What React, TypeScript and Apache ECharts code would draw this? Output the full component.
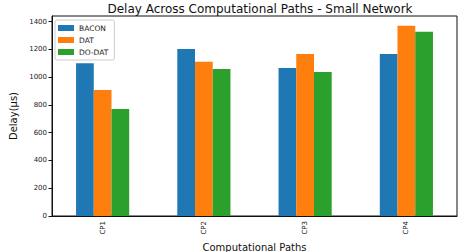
import React, { useEffect, useRef } from "react";
import * as echarts from "echarts";

const categories = ["CP1", "CP2", "CP3", "CP4"];
const seriesNames = ["BACON", "DAT", "DO-DAT"];
const bacon = [1100, 1203, 1066, 1167];
const dat = [907, 1110, 1167, 1369];
const doDat = [771, 1059, 1037, 1326];
const colors = ["#1f77b4", "#ff7f0e", "#2ca02c"];

export default function App() {
  const ref = useRef<HTMLDivElement>(null);
  useEffect(() => {
    if (!ref.current) return;
    const chart = echarts.init(ref.current, undefined, { renderer: "svg" });
    const font = "DejaVu Sans";
    const values = [bacon, dat, doDat];
    chart.setOption({
      animation: false,
      backgroundColor: "#fff",
      textStyle: { fontFamily: font },
      title: {
        text: "Delay Across Computational Paths - Small Network",
        left: 255,
        textAlign: "center",
        top: -2,
        textStyle: { fontFamily: font, fontSize: 12, fontWeight: "normal", color: "#111" },
      },
      legend: {
        orient: "vertical",
        left: 55,
        top: 20,
        icon: "rect",
        itemWidth: 16,
        itemHeight: 6,
        itemGap: 4,
        padding: [4, 6, 4, 3],
        borderColor: "#ccc",
        borderWidth: 1,
        borderRadius: 2,
        backgroundColor: "rgba(255,255,255,0.8)",
        textStyle: { fontFamily: font, fontSize: 7.5, color: "#222" },
        data: seriesNames,
      },
      grid: {
        left: 52,
        right: 1,
        top: 16,
        bottom: 36,
        show: true,
        borderColor: "#111",
        borderWidth: 1,
        containLabel: false,
        outerBoundsMode: "none",
      },
      xAxis: {
        type: "category",
        data: categories,
        name: "Computational Paths",
        nameLocation: "middle",
        nameGap: 22,
        nameTextStyle: { fontFamily: font, fontSize: 10, color: "#111" },
        axisLine: { lineStyle: { color: "#111", width: 1 } },
        axisTick: { alignWithLabel: true, length: 3.5, lineStyle: { color: "#111" } },
        axisLabel: { rotate: 90, fontSize: 7, color: "#222", fontFamily: font, margin: 5 },
      },
      yAxis: {
        type: "value",
        min: 0,
        max: 1440,
        interval: 200,
        name: "Delay(μs)",
        nameLocation: "middle",
        nameGap: 28,
        nameTextStyle: { fontFamily: font, fontSize: 10, color: "#111" },
        axisLine: { show: true, lineStyle: { color: "#111", width: 1 } },
        axisTick: { show: true, length: 3.5, lineStyle: { color: "#111" } },
        axisLabel: {
          fontSize: 7,
          color: "#222",
          fontFamily: font,
          margin: 5,
          showMaxLabel: false,
          formatter: (v: number) => String(v),
        },
        splitLine: { show: false },
      },
      series: seriesNames.map((name, i) => ({
        name,
        type: "bar",
        data: values[i],
        barWidth: "17.5%",
        barGap: "0%",
        itemStyle: { color: colors[i] },
      })),
    });
    return () => chart.dispose();
  }, []);
  return (
    <div
      ref={ref}
      style={{ position: "fixed", left: 0, top: 0, width: 458, height: 252 }}
    />
  );
}
